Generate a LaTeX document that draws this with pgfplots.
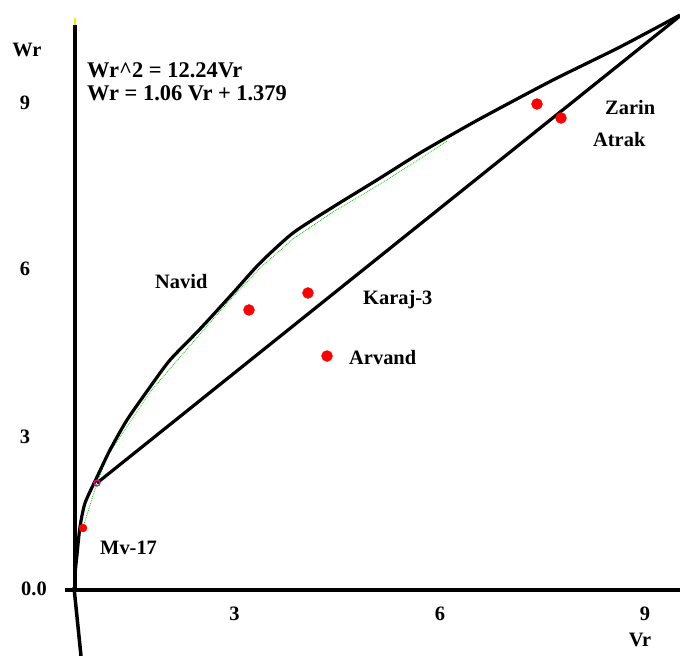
\documentclass[border=0pt]{standalone}
\usepackage{fontspec}
\setmainfont{Liberation Serif}
\usepackage{pgfplots}
\pgfplotsset{compat=1.18}
\begin{document}
\begin{tikzpicture}
\begin{axis}[
  x=68.2bp, y=54.1bp,
  xmin=-1.0997, xmax=8.871, ymin=-1.2200, ymax=10.9057,
  axis line style={draw=none},
  tick style={draw=none},
  clip=false,
  xtick={2.339,5.352,8.358}, xticklabels={3,6,9},
  ytick={2.828,5.933,9.002}, yticklabels={3,6,9},
  extra y ticks={0.018}, extra y tick labels={0.0},
  extra y tick style={yticklabel style={xshift=9bp}},
  ticklabel style={font=\fontsize{20.5}{22}\selectfont\bfseries, inner sep=0pt, anchor=center},
  xticklabel style={yshift=42bp},
  yticklabel style={xshift=25bp},
]
\coordinate (BL) at (rel axis cs:0,0);
\coordinate (TR) at (rel axis cs:1,1);
% axes
\addplot[black, line width=3.5bp] coordinates {(0,10.443) (0,-0.03)};
\addplot[yellow!90!orange, line width=2bp] coordinates {(0,10.58) (0,10.443)};
\addplot[black, line width=3.5bp] coordinates {(-0.147,0) (8.871,0)};
% lower segment below axis
\addplot[black, line width=3.5bp] coordinates {(-0.015,0.05) (0.088,-1.22)};
% green trend
\addplot[green!80!black, line width=0.8bp, densely dotted] coordinates {
(0.117,1.146) (0.220,1.571) (0.323,1.978) (0.484,2.495) (1.100,3.660) (1.833,4.732)
(2.273,5.360) (2.713,5.952) (3.196,6.488) (3.783,6.987) (4.428,7.468) (4.985,7.911) (5.455,8.299)};
% curve Wr^2 = 12.24 Vr
\addplot[black, line width=3.2bp, smooth, tension=0.4] coordinates {
(-0.005,0) (0,0.277) (0.029,0.647) (0.073,1.165) (0.147,1.608) (0.323,2.089) (0.513,2.588)
(0.762,3.142) (1.100,3.752) (1.393,4.251) (1.833,4.824) (2.317,5.490) (2.713,6.044)
(3.196,6.599) (3.783,7.079) (4.428,7.579) (5.059,8.078) (5.645,8.503) (6.041,8.780)
(7.009,9.427) (7.991,10.037) (8.871,10.628)};
% line Wr = 1.06 Vr + 1.379
\addplot[black, line width=3.2bp] coordinates {(0.323,1.978) (8.871,10.610)};
% points
\addplot[only marks, mark=*, mark size=5.5bp, red, mark options={draw=red, fill=red}] coordinates {
(2.551,5.176) (3.416,5.490) (3.695,4.325) (6.774,8.983) (7.126,8.725)};
\addplot[only marks, mark=*, mark size=4bp, red, mark options={draw=red, fill=red}] coordinates {(0.117,1.146)};
\addplot[only marks, mark=o, mark size=3bp, magenta, mark options={line width=1.2bp}] coordinates {(0.323,1.978)};
% texts
\begin{scope}[every node/.style={font=\fontsize{20.5}{22}\selectfont\bfseries, inner sep=0pt}]
\node[anchor=base west, font=\fontsize{22.5}{24}\selectfont\bfseries] at (axis cs:0.176,9.482) {Wr\^{}2 = 12.24Vr};
\node[anchor=base west, font=\fontsize{22.5}{24}\selectfont\bfseries] at (axis cs:0.176,9.057) {Wr = 1.06 Vr + 1.379};
\node[anchor=center] at (axis cs:-0.704,9.982) {Wr};
\node[anchor=center] at (axis cs:8.284,-0.924) {Vr};
\node[anchor=base west] at (axis cs:1.173,5.564) {Navid};
\node[anchor=base west] at (axis cs:4.223,5.268) {Karaj-3};
\node[anchor=base west] at (axis cs:4.018,4.159) {Arvand};
\node[anchor=base west] at (axis cs:7.771,8.780) {Zarin};
\node[anchor=base west] at (axis cs:7.595,8.189) {Atrak};
\node[anchor=base west] at (axis cs:0.367,0.647) {Mv-17};
\end{scope}
\end{axis}
\pgfresetboundingbox
\useasboundingbox (BL) rectangle (TR);
\end{tikzpicture}
\end{document}
